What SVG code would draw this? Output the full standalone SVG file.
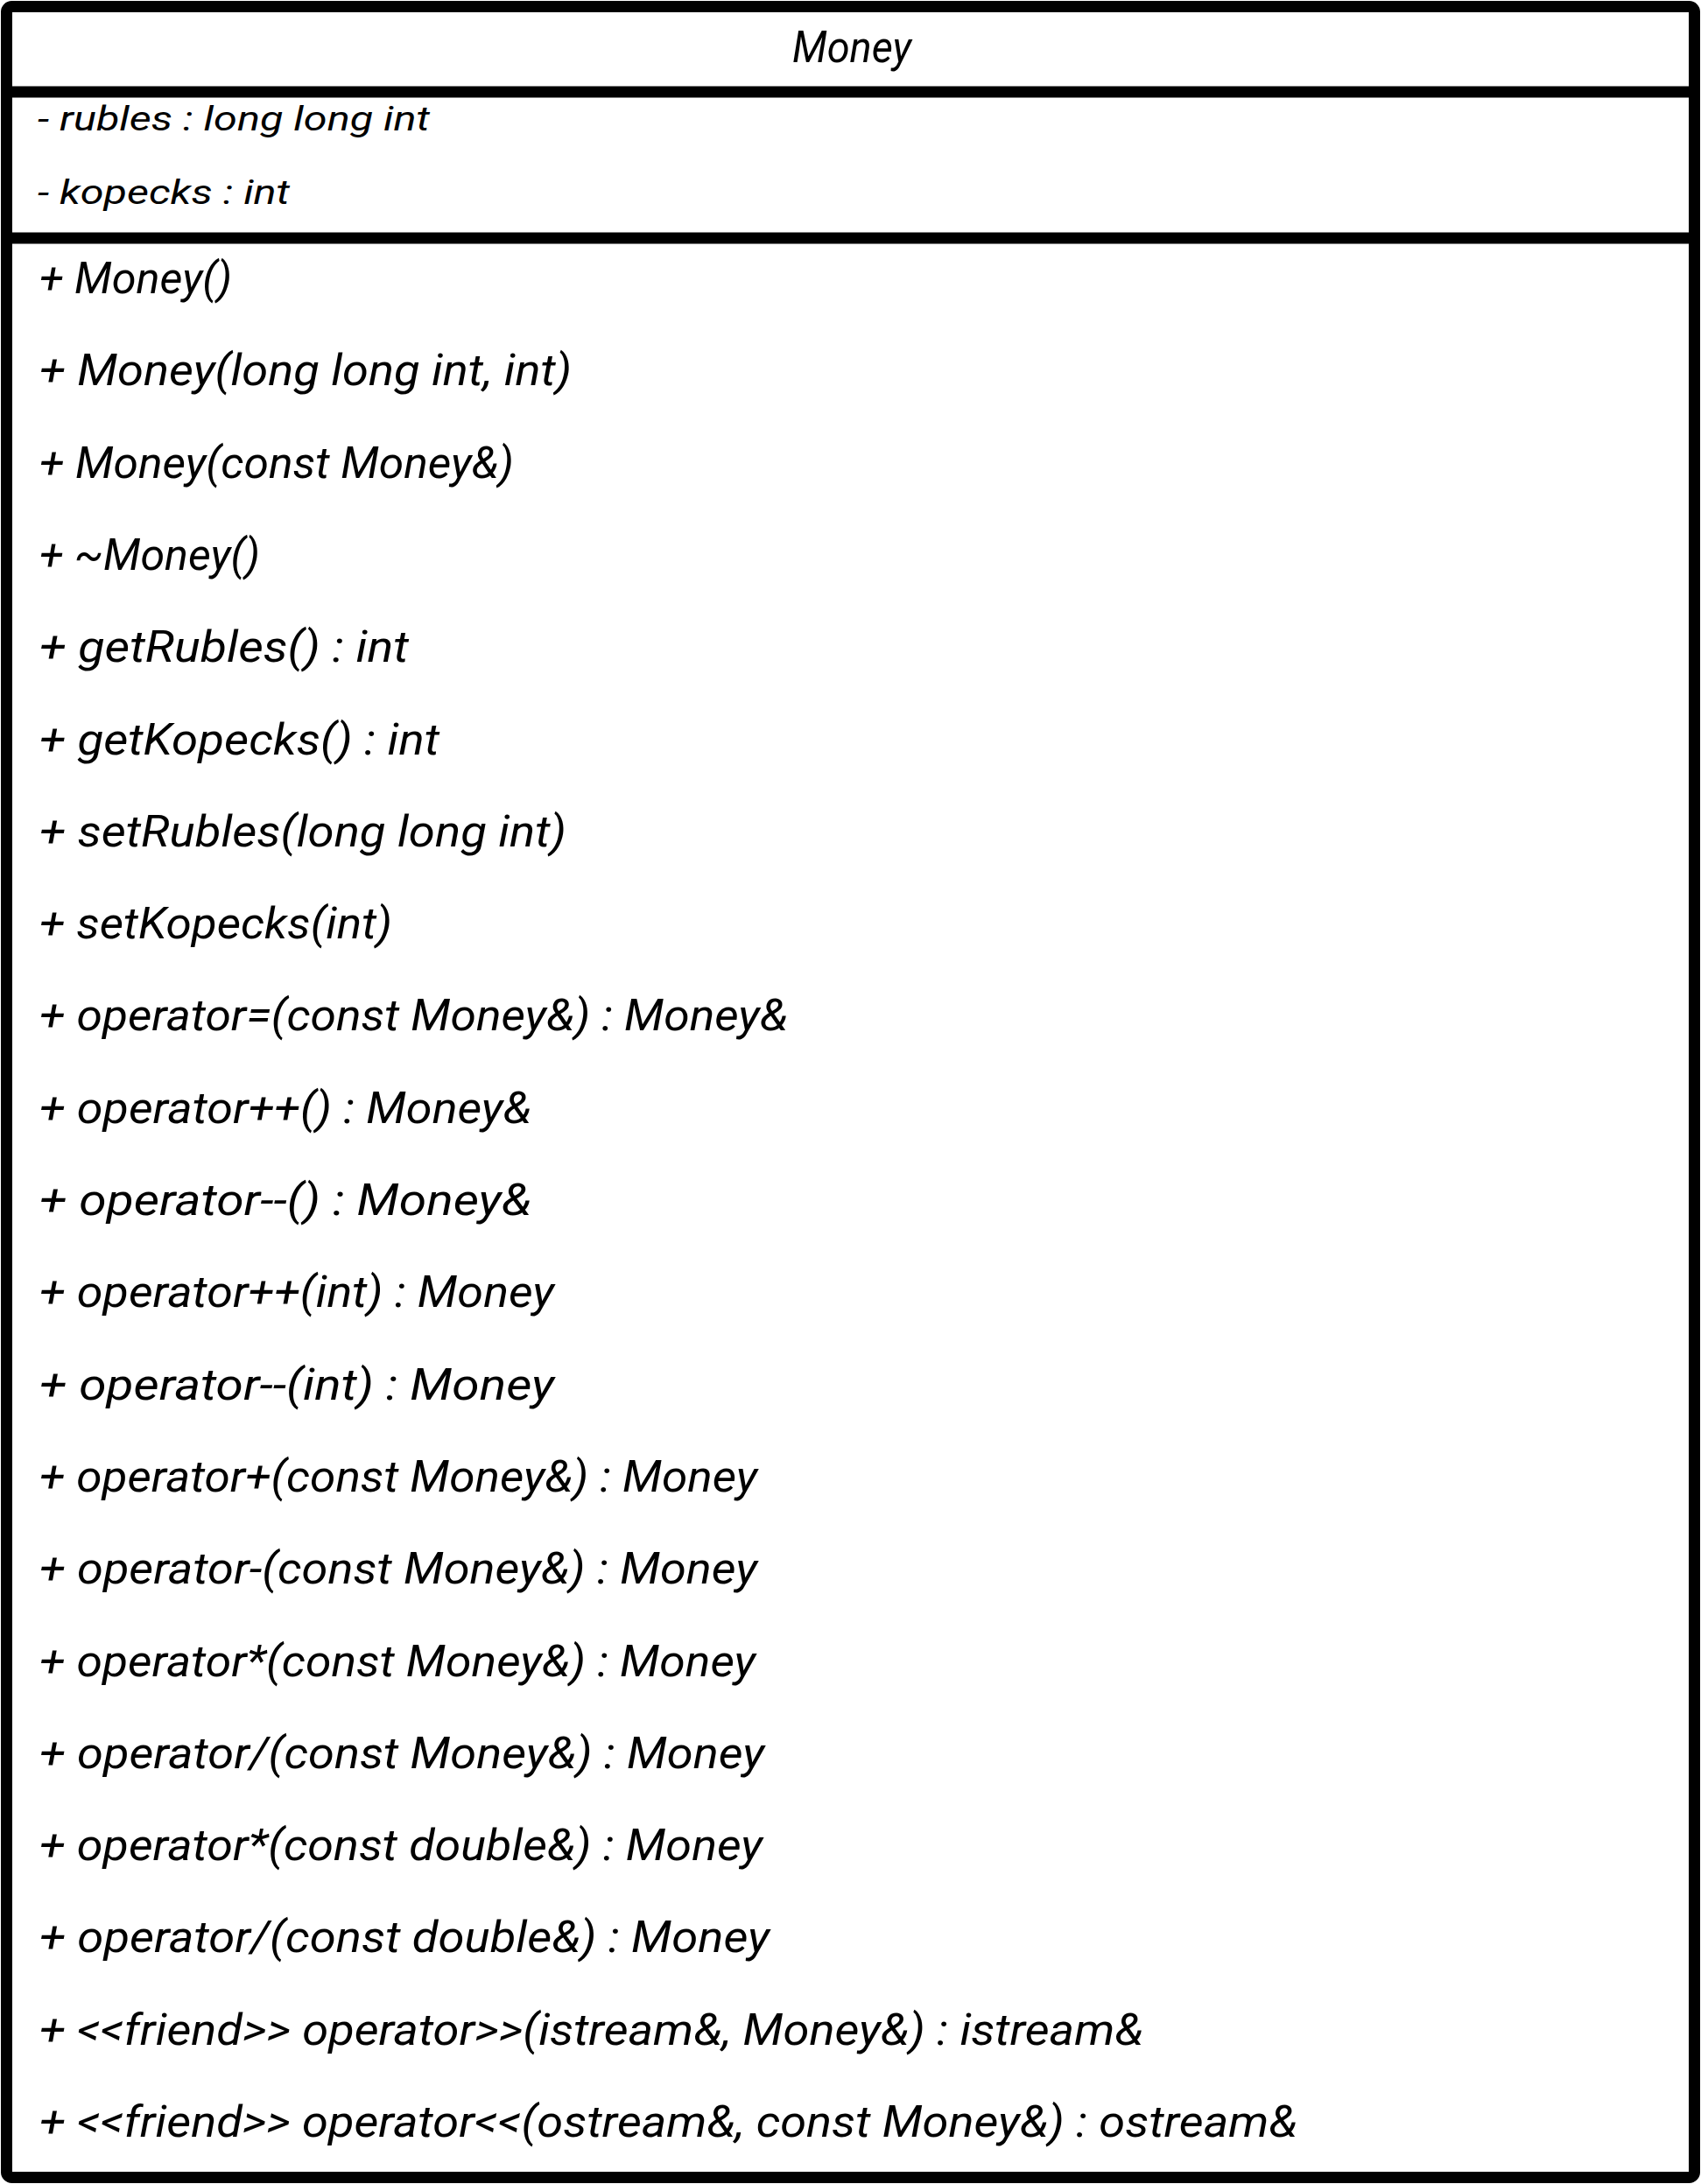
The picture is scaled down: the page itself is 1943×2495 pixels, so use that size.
<svg xmlns="http://www.w3.org/2000/svg" width="1943" height="2495" viewBox="0 0 1943 2495">
<style>
.frame{fill:#ffffff;stroke:#000000;stroke-width:13}
.sep{stroke:#000000;stroke-width:13;fill:none}
.t{font-family:Roboto,"Liberation Sans","DejaVu Sans",sans-serif;font-style:italic;fill:#000000}
.title{font-size:50px}
.attr{font-size:39px}
.op{font-size:50px}
</style>
<rect x="0" y="0" width="1943" height="2495" fill="#ffffff"/>
<g id="connectors"></g>
<g id="node-Money">
<rect class="frame" x="7.5" y="7.5" width="1928" height="2480" rx="6"/>
<line class="sep" x1="7.5" y1="105" x2="1935.5" y2="105"/>
<line class="sep" x1="7.5" y1="272" x2="1935.5" y2="272"/>
<text class="t title" x="905" y="71" textLength="136" lengthAdjust="spacingAndGlyphs">Money</text>
<text class="t attr" x="43" y="149" textLength="448" lengthAdjust="spacingAndGlyphs">- rubles : long long int</text>
<text class="t attr" x="43" y="233" textLength="288" lengthAdjust="spacingAndGlyphs">- kopecks : int</text>
<text class="t op" x="45" y="335" textLength="220" lengthAdjust="spacingAndGlyphs">+ Money()</text>
<text class="t op" x="45" y="440.3" textLength="608" lengthAdjust="spacingAndGlyphs">+ Money(long long int, int)</text>
<text class="t op" x="45" y="545.6" textLength="542" lengthAdjust="spacingAndGlyphs">+ Money(const Money&amp;)</text>
<text class="t op" x="45" y="650.9" textLength="252" lengthAdjust="spacingAndGlyphs">+ ~Money()</text>
<text class="t op" x="45" y="756.2" textLength="422" lengthAdjust="spacingAndGlyphs">+ getRubles() : int</text>
<text class="t op" x="45" y="861.5" textLength="457" lengthAdjust="spacingAndGlyphs">+ getKopecks() : int</text>
<text class="t op" x="45" y="966.8" textLength="602" lengthAdjust="spacingAndGlyphs">+ setRubles(long long int)</text>
<text class="t op" x="45" y="1072.1" textLength="403" lengthAdjust="spacingAndGlyphs">+ setKopecks(int)</text>
<text class="t op" x="45" y="1177.4" textLength="855" lengthAdjust="spacingAndGlyphs">+ operator=(const Money&amp;) : Money&amp;</text>
<text class="t op" x="45" y="1282.7" textLength="562" lengthAdjust="spacingAndGlyphs">+ operator++() : Money&amp;</text>
<text class="t op" x="45" y="1388" textLength="562" lengthAdjust="spacingAndGlyphs">+ operator--() : Money&amp;</text>
<text class="t op" x="45" y="1493.3" textLength="588" lengthAdjust="spacingAndGlyphs">+ operator++(int) : Money</text>
<text class="t op" x="45" y="1598.6" textLength="588" lengthAdjust="spacingAndGlyphs">+ operator--(int) : Money</text>
<text class="t op" x="45" y="1703.9" textLength="820" lengthAdjust="spacingAndGlyphs">+ operator+(const Money&amp;) : Money</text>
<text class="t op" x="45" y="1809.2" textLength="820" lengthAdjust="spacingAndGlyphs">+ operator-(const Money&amp;) : Money</text>
<text class="t op" x="45" y="1914.5" textLength="818" lengthAdjust="spacingAndGlyphs">+ operator*(const Money&amp;) : Money</text>
<text class="t op" x="45" y="2019.8" textLength="828" lengthAdjust="spacingAndGlyphs">+ operator/(const Money&amp;) : Money</text>
<text class="t op" x="45" y="2125.1" textLength="826" lengthAdjust="spacingAndGlyphs">+ operator*(const double&amp;) : Money</text>
<text class="t op" x="45" y="2230.4" textLength="834" lengthAdjust="spacingAndGlyphs">+ operator/(const double&amp;) : Money</text>
<text class="t op" x="45" y="2335.7" textLength="1261" lengthAdjust="spacingAndGlyphs">+ &lt;&lt;friend&gt;&gt; operator&gt;&gt;(istream&amp;, Money&amp;) : istream&amp;</text>
<text class="t op" x="45" y="2441" textLength="1437" lengthAdjust="spacingAndGlyphs">+ &lt;&lt;friend&gt;&gt; operator&lt;&lt;(ostream&amp;, const Money&amp;) : ostream&amp;</text>
</g>
</svg>
